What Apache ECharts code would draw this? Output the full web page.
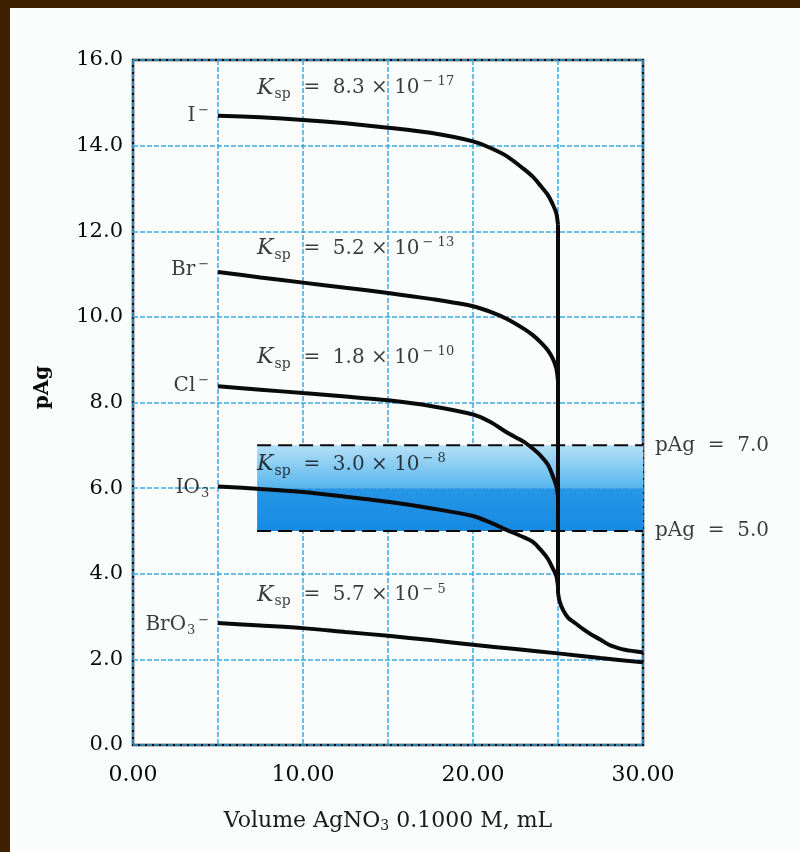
<!DOCTYPE html>
<html><head><meta charset="utf-8">
<script src="https://cdn.jsdelivr.net/npm/echarts@6/dist/echarts.min.js"></script>
<style>
html,body{margin:0;padding:0;background:#3e2102;width:800px;height:852px;overflow:hidden;}
#c{position:absolute;left:10px;top:8px;width:790px;height:844px;background:#fbfdfd;}
</style></head><body><div id="c"></div>
<script>
// ---- data ----
const volTitration = [5, 7.5, 10, 12.5, 15, 17.5, 20, 21, 22, 23, 23.5, 24, 24.4, 24.7, 24.9, 25];
const pAgIodide   = [14.70, 14.66, 14.60, 14.52, 14.42, 14.30, 14.10, 13.95, 13.75, 13.45, 13.28, 13.05, 12.85, 12.62, 12.42, 12.15];
const pAgBromide  = [11.05, 10.92, 10.80, 10.68, 10.56, 10.42, 10.25, 10.12, 9.95, 9.72, 9.58, 9.40, 9.22, 9.02, 8.80, 8.50];
const pAgChloride = [8.38, 8.30, 8.22, 8.14, 8.05, 7.92, 7.72, 7.55, 7.30, 7.08, 6.93, 6.75, 6.55, 6.28, 6.05, 5.80];
const pAgIodate   = [6.04, 5.98, 5.91, 5.80, 5.68, 5.53, 5.35, 5.20, 5.02, 4.85, 4.75, 4.55, 4.35, 4.12, 3.95, 3.70];
const volExcess = [25, 25.1, 25.3, 25.6, 26, 26.5, 27, 27.5, 28, 28.5, 29, 29.5, 30];
const pAgExcess = [3.55, 3.35, 3.15, 2.97, 2.85, 2.70, 2.57, 2.46, 2.34, 2.27, 2.22, 2.19, 2.16];
const volBromate = [5, 7.5, 10, 12.5, 15, 17.5, 20, 22.5, 25, 27.5, 30];
const pAgBromate = [2.85, 2.79, 2.73, 2.64, 2.55, 2.45, 2.34, 2.24, 2.14, 2.03, 1.93];
const ionLabels = ['{t|I}{sup|−}', '{t|Br}{sup|−}', '{t|Cl}{sup|−}', '{t|IO}{sub|3}', '{t|BrO}{sub|3}{sup|−}'];
const ionStartPAg = [14.7, 11.1, 8.4, 6.0, 2.8];
const kspMantissa = ['8.3', '5.2', '1.8', '3.0', '5.7'];
const kspExponent = ['17', '13', '10', '8', '5'];
const kspLabelPAg = [15.35, 11.6, 9.05, 6.55, 3.5];
const yTicks = [0, 2, 4, 6, 8, 10, 12, 14, 16];
const xTickLabels = ['0.00', '10.00', '20.00', '30.00'];
const bandRange = { fromVol: 7.3, toVol: 30, low: 5.0, mid: 6.0, high: 7.0 };
const equivalenceVol = 25;
const ionLabelVol = 4.6;
const kspLabelVol = 7.3;

// ---- chart ----
const FF = '"DejaVu Serif", "Liberation Serif", serif';
const INK = '#0a0a0a';
const zip = (xs, ys) => xs.map((x, i) => [x, ys[i]]);
const curveStyle = { color: INK, width: 4 };
const lineSeries = (name, data, smooth) => ({
  name, type: 'line', data, showSymbol: false, smooth: smooth ? 0.3 : false,
  lineStyle: curveStyle, z: 5, animation: false
});
const last = a => a[a.length - 1];
const verticalDrop = [[equivalenceVol, last(pAgIodide)], [equivalenceVol, pAgExcess[0]]];

const chart = echarts.init(document.getElementById('c'), null, { renderer: 'canvas' });
const series = [
  {
    type: 'line', data: [], z: 1, animation: false,
    markArea: {
      silent: true,
      data: [
        [{ coord: [bandRange.fromVol, bandRange.high], itemStyle: { color: { type: 'linear', x: 0, y: 0, x2: 0, y2: 1, colorStops: [{ offset: 0, color: '#b5e0f7' }, { offset: 1, color: '#56b5ed' }] } } },
         { coord: [bandRange.toVol, bandRange.mid] }],
        [{ coord: [bandRange.fromVol, bandRange.mid], itemStyle: { color: { type: 'linear', x: 0, y: 0, x2: 0, y2: 1, colorStops: [{ offset: 0, color: '#2896e6' }, { offset: 1, color: '#168ae2' }] } } },
         { coord: [bandRange.toVol, bandRange.low] }]
      ]
    }
  },
  { type: 'line', data: [[bandRange.fromVol, bandRange.high], [bandRange.toVol, bandRange.high]], showSymbol: false, z: 4, animation: false,
    lineStyle: { color: INK, width: 2, type: [14, 7] } },
  { type: 'line', data: [[bandRange.fromVol, bandRange.low], [bandRange.toVol, bandRange.low]], showSymbol: false, z: 4, animation: false,
    lineStyle: { color: INK, width: 2, type: [14, 7] } },
  lineSeries('I', zip(volTitration, pAgIodide), true),
  lineSeries('Br', zip(volTitration, pAgBromide), true),
  lineSeries('Cl', zip(volTitration, pAgChloride), true),
  lineSeries('IO3', zip(volTitration, pAgIodate), true),
  lineSeries('drop', verticalDrop, false),
  lineSeries('excess', zip(volExcess, pAgExcess), true),
  lineSeries('BrO3', zip(volBromate, pAgBromate), true),
  {
    type: 'scatter', symbolSize: 0, z: 6, animation: false, silent: true,
    data: ionStartPAg.map((p, i) => ({ value: [ionLabelVol, p], label: { formatter: ionLabels[i] } })),
    label: {
      show: true, position: 'left', distance: 2, color: INK,
      fontFamily: FF, fontSize: 20,
      rich: {
        t: { fontFamily: FF, fontSize: 20, color: INK },
        sup: { fontFamily: FF, fontSize: 13, color: INK, padding: [0, 0, 10, 3] },
        sub: { fontFamily: FF, fontSize: 13, color: INK, padding: [10, 0, 0, 1] }
      }
    }
  },
  {
    type: 'scatter', symbolSize: 0, z: 6, animation: false, silent: true,
    data: kspLabelPAg.map((p, i) => ({ value: [kspLabelVol, p],
      label: { formatter: '{k|K}{sub|sp}{t|  =  ' + kspMantissa[i] + ' × 10}{sup|− ' + kspExponent[i] + '}' } })),
    label: {
      show: true, position: 'right', distance: 0, color: INK,
      fontFamily: FF, fontSize: 20,
      rich: {
        k: { fontFamily: FF, fontSize: 22, fontStyle: 'italic', color: INK },
        t: { fontFamily: FF, fontSize: 20, color: INK },
        sub: { fontFamily: FF, fontSize: 14, color: INK, padding: [13, 0, 0, 1] },
        sup: { fontFamily: FF, fontSize: 13, color: INK, padding: [0, 0, 12, 3] }
      }
    }
  },
  {
    type: 'scatter', symbolSize: 0, z: 6, animation: false, silent: true,
    data: [[bandRange.toVol, bandRange.high], [bandRange.toVol, bandRange.low]],
    label: {
      show: true, position: 'right', distance: 12, color: INK,
      fontFamily: FF, fontSize: 20,
      formatter: p => 'pAg  =  ' + p.value[1].toFixed(1)
    }
  }
];

chart.setOption({
  animation: false,
  textStyle: { fontFamily: FF },
  grid: { left: 123, right: 157, top: 52, bottom: 107, show: true, borderColor: INK, borderWidth: 2.5, backgroundColor: 'transparent' },
  xAxis: {
    type: 'value', min: 0, max: 30, interval: 5,
    name: 'Volume AgNO{s|3} 0.1000 M, mL', nameLocation: 'middle', nameGap: 64,
    nameTextStyle: { fontFamily: FF, fontSize: 22, color: '#1a1a1a', rich: { s: { fontFamily: FF, fontSize: 14, color: '#1a1a1a', padding: [10, 0, 0, 0] } } },
    axisLine: { show: false }, axisTick: { show: false },
    axisLabel: { fontFamily: FF, fontSize: 22, color: INK, margin: 19,
      formatter: v => (v % 10 === 0 ? xTickLabels[v / 10] : '') },
    splitLine: { show: true, lineStyle: { color: '#3aa9e6', width: 1.5, type: [5, 2] } }
  },
  yAxis: {
    type: 'value', min: 0, max: 16, interval: 2,
    name: 'pAg', nameLocation: 'middle', nameGap: 80,
    nameTextStyle: { fontFamily: FF, fontSize: 20, color: INK, fontWeight: 'bold', padding: [0, 0, 0, 30] },
    axisLine: { show: false }, axisTick: { show: false },
    axisLabel: { fontFamily: FF, fontSize: 21, color: INK, margin: 10,
      formatter: v => (yTicks.includes(v) ? v.toFixed(1) : '') },
    splitLine: { show: true, lineStyle: { color: '#3aa9e6', width: 1.5, type: [5, 2] } }
  },
  series
});
</script></body></html>
